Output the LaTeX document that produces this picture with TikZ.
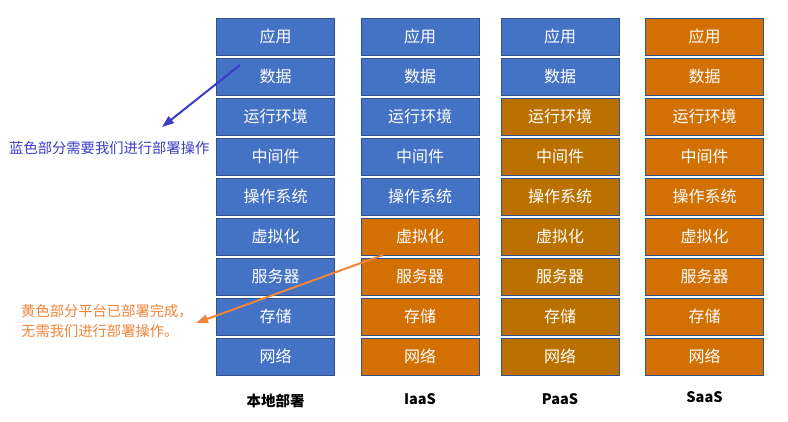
\documentclass[tikz,border=0pt]{standalone}
\usepackage{fontspec}
\setmainfont{Noto Sans CJK SC}
\usetikzlibrary{arrows.meta, positioning}

\definecolor{layblue}{HTML}{4472C4}
\definecolor{layedge}{HTML}{2F528F}
\definecolor{layorange}{HTML}{D27003}
\definecolor{laypaas}{HTML}{BB7100}
\definecolor{noteblue}{HTML}{3C3CC8}
\definecolor{noteorange}{HTML}{F0843A}

\begin{document}
\begin{tikzpicture}[
  node distance=2.1pt,
  layer/.style ={rectangle, draw=layedge, line width=0.9pt, text=white,
                 minimum width=118pt, minimum height=37pt, inner sep=0pt,
                 font=\fontsize{16}{19}\selectfont},
  own/.style   ={layer, fill=layblue},
  done/.style  ={layer, fill=layorange},
  pdone/.style ={layer, fill=laypaas},
  colname/.style={font=\fontsize{14.5}{17}\selectfont\bfseries, inner sep=0pt},
  note/.style  ={font=\fontsize{14.3}{19.5}\selectfont, align=left, inner sep=0pt},
  pointer/.style={-{Triangle[length=12pt,width=8.5pt]}, line width=2pt},
]
\useasboundingbox (0,0) rectangle (788pt,-421pt);

% ---- on-premises ----
\node[own] (l-app) at (275.5pt,-36.5pt) {应用};
\node[own, below=of l-app]  (l-data) {数据};
\node[own, below=of l-data] (l-rt)   {运行环境};
\node[own, below=of l-rt]   (l-mw)   {中间件};
\node[own, below=of l-mw]   (l-os)   {操作系统};
\node[own, below=of l-os]   (l-virt) {虚拟化};
\node[own, below=of l-virt] (l-srv)  {服务器};
\node[own, below=of l-srv]  (l-stor) {存储};
\node[own, below=of l-stor] (l-net)  {网络};

% ---- IaaS ----
\node[own] (i-app) at (420pt,-36.5pt) {应用};
\node[own,  below=of i-app]  (i-data) {数据};
\node[own,  below=of i-data] (i-rt)   {运行环境};
\node[own,  below=of i-rt]   (i-mw)   {中间件};
\node[own,  below=of i-mw]   (i-os)   {操作系统};
\node[done, below=of i-os]   (i-virt) {虚拟化};
\node[done, below=of i-virt] (i-srv)  {服务器};
\node[done, below=of i-srv]  (i-stor) {存储};
\node[done, below=of i-stor] (i-net)  {网络};

% ---- PaaS ----
\node[own] (p-app) at (560pt,-36.5pt) {应用};
\node[own,   below=of p-app]  (p-data) {数据};
\node[pdone, below=of p-data] (p-rt)   {运行环境};
\node[pdone, below=of p-rt]   (p-mw)   {中间件};
\node[pdone, below=of p-mw]   (p-os)   {操作系统};
\node[pdone, below=of p-os]   (p-virt) {虚拟化};
\node[pdone, below=of p-virt] (p-srv)  {服务器};
\node[pdone, below=of p-srv]  (p-stor) {存储};
\node[pdone, below=of p-stor] (p-net)  {网络};

% ---- SaaS ----
\node[done] (s-app) at (704.5pt,-36.5pt) {应用};
\node[done, below=of s-app]  (s-data) {数据};
\node[done, below=of s-data] (s-rt)   {运行环境};
\node[done, below=of s-rt]   (s-mw)   {中间件};
\node[done, below=of s-mw]   (s-os)   {操作系统};
\node[done, below=of s-os]   (s-virt) {虚拟化};
\node[done, below=of s-virt] (s-srv)  {服务器};
\node[done, below=of s-srv]  (s-stor) {存储};
\node[done, below=of s-stor] (s-net)  {网络};

% ---- column names ----
\node[colname, below=18pt of l-net] (n-local) {本地部署};
\node[colname, below=18pt of i-net] (n-iaas)  {IaaS};
\node[colname, below=18pt of p-net] (n-paas)  {PaaS};
\node[colname, below=16pt of s-net] (n-saas)  {SaaS};

% ---- notes ----
\node[note, text=noteblue, anchor=west] (n-blue) at (9pt,-148pt)
      {蓝色部分需要我们进行部署操作};
\node[note, text=noteorange, anchor=west] (n-orange) at (21pt,-321pt)
      {黄色部分平台已部署完成，\\无需我们进行部署操作。};

\coordinate (bluefrom)  at (240pt,-65pt);
\coordinate (bluetip)   at (162pt,-127pt);
\coordinate (orangefrom) at (383pt,-255pt);
\coordinate (orangetip)  at (196pt,-323pt);

\draw[pointer, draw=noteblue, fill=noteblue] (bluefrom) -- (bluetip);
\draw[pointer, draw=noteorange, fill=noteorange] (orangefrom) -- (orangetip);

\end{tikzpicture}
\end{document}
